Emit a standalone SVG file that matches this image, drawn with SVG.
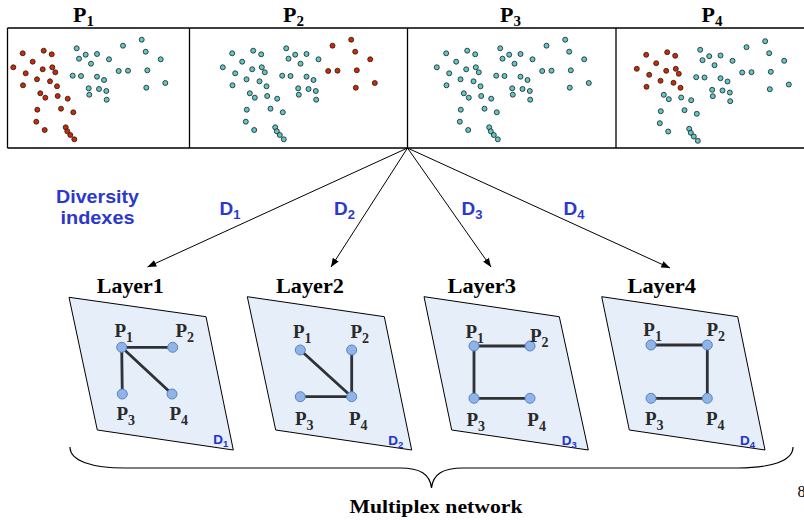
<svg xmlns="http://www.w3.org/2000/svg" xmlns:xlink="http://www.w3.org/1999/xlink" width="804" height="520" viewBox="0 0 804 520">
<style>
.frame{fill:none;stroke:#000;stroke-width:1.3}
.red{fill:#cc2a00;stroke:#1a1a1a;stroke-width:0.8}
.cy{fill:#5ec8c8;stroke:#1a1a1a;stroke-width:0.8}
.ttl{font-family:"Liberation Serif","Times New Roman",serif;font-weight:bold;fill:#000}
.blue{font-family:"Liberation Sans",Arial,sans-serif;font-weight:bold;fill:#2b38d0}
.plane{fill:#e6eefa;stroke:#000;stroke-width:1}
.edge{stroke:#2e3136;stroke-width:2.8;stroke-linecap:round;fill:none}
.nd{fill:#8fb4e8;stroke:#5a82c0;stroke-width:1}
.pl{font-family:"Liberation Serif","Times New Roman",serif;font-weight:bold;fill:#2a2a2a;font-size:19px}
.dl{font-family:"Liberation Sans",Arial,sans-serif;font-weight:bold;fill:#2233cc;font-size:13.5px}
.arr{stroke:#000;stroke-width:1;fill:none;marker-end:url(#ah)}
</style>
<defs>
<marker id="ah" viewBox="0 0 10 8" refX="10" refY="4" markerWidth="9" markerHeight="7" orient="auto" markerUnits="userSpaceOnUse"><path d="M0,0 L10,4 L0,8 z" fill="#000"/></marker>
<g id="dA">
<circle cx="22.7" cy="53.3" r="2.5"/><circle cx="43.7" cy="50.7" r="2.5"/><circle cx="51.7" cy="54.3" r="2.5"/><circle cx="32.7" cy="61.7" r="2.5"/><circle cx="13.3" cy="67.3" r="2.5"/><circle cx="25.7" cy="73.3" r="2.5"/><circle cx="42.7" cy="69.3" r="2.5"/><circle cx="52.3" cy="67.3" r="2.5"/><circle cx="55.3" cy="72.3" r="2.5"/><circle cx="37" cy="79.3" r="2.5"/><circle cx="50" cy="81.3" r="2.5"/><circle cx="23" cy="85.3" r="2.5"/><circle cx="57" cy="86.3" r="2.5"/>
</g>
<g id="dB">
<circle cx="40.3" cy="93.3" r="2.5"/><circle cx="45.3" cy="97.7" r="2.5"/><circle cx="57.7" cy="96" r="2.5"/><circle cx="67.7" cy="98.7" r="2.5"/><circle cx="37.3" cy="109.7" r="2.5"/><circle cx="61" cy="108.7" r="2.5"/><circle cx="73.3" cy="112.3" r="2.5"/><circle cx="36.3" cy="121.7" r="2.5"/><circle cx="44.7" cy="130" r="2.5"/><circle cx="65.7" cy="127.3" r="2.5"/><circle cx="67.3" cy="131.3" r="2.5"/><circle cx="70.3" cy="135" r="2.5"/><circle cx="74.3" cy="139.3" r="2.5"/>
</g>
<g id="dC">
<circle cx="76.7" cy="48.3" r="2.5"/><circle cx="85.7" cy="54.7" r="2.5"/><circle cx="97" cy="54" r="2.5"/><circle cx="79" cy="58.7" r="2.5"/><circle cx="91" cy="63.7" r="2.5"/><circle cx="109" cy="59.3" r="2.5"/><circle cx="72.7" cy="75.7" r="2.5"/><circle cx="81" cy="76" r="2.5"/><circle cx="97" cy="76.7" r="2.5"/><circle cx="104" cy="80" r="2.5"/><circle cx="88.7" cy="88.3" r="2.5"/><circle cx="99" cy="89" r="2.5"/><circle cx="106.3" cy="91" r="2.5"/><circle cx="89.3" cy="94.7" r="2.5"/><circle cx="106.7" cy="99.7" r="2.5"/>
</g>
<g id="dE">
<circle cx="123" cy="45.7" r="2.5"/><circle cx="141.7" cy="39.7" r="2.5"/><circle cx="145.7" cy="51.7" r="2.5"/><circle cx="160.7" cy="59.3" r="2.5"/><circle cx="118.7" cy="71" r="2.5"/><circle cx="128" cy="70.7" r="2.5"/><circle cx="147.3" cy="70.3" r="2.5"/><circle cx="146.3" cy="87.7" r="2.5"/><circle cx="165.3" cy="83" r="2.5"/>
</g>
</defs>

<rect x="0" y="0" width="804" height="520" fill="#fff"/>

<!-- top panels -->
<g id="panels">
<path class="frame" d="M7.5,28 H805 M7.5,148 H805 M7.5,28 V148 M189.5,28 V148 M407.5,28 V148 M616,28 V148"/>
</g>
<g id="panel-P1">
<text class="ttl" x="73" y="22" font-size="22">P<tspan font-size="15" dy="4">1</tspan></text>
<use xlink:href="#dA" class="red"/><use xlink:href="#dB" class="red"/><use xlink:href="#dC" class="cy"/><use xlink:href="#dE" class="cy"/>
</g>
<g id="panel-P2">
<text class="ttl" x="283" y="22" font-size="22">P<tspan font-size="15" dy="4">2</tspan></text>
<g transform="translate(209.5,0)"><use xlink:href="#dA" class="cy"/><use xlink:href="#dB" class="cy"/><use xlink:href="#dC" class="cy"/><use xlink:href="#dE" class="red"/></g>
</g>
<g id="panel-P3">
<text class="ttl" x="500" y="22" font-size="22">P<tspan font-size="15" dy="4">3</tspan></text>
<g transform="translate(423.5,0)"><use xlink:href="#dA" class="cy"/><use xlink:href="#dB" class="cy"/><use xlink:href="#dC" class="cy"/><use xlink:href="#dE" class="cy"/></g>
</g>
<g id="panel-P4">
<text class="ttl" x="701.5" y="22" font-size="22">P<tspan font-size="15" dy="4">4</tspan></text>
<g transform="translate(623.5,1.5)"><use xlink:href="#dA" class="red"/><use xlink:href="#dB" class="cy"/><use xlink:href="#dC" class="cy"/><use xlink:href="#dE" class="cy"/></g>
</g>

<!-- connectors -->
<g id="connectors">
<line class="arr" x1="407.5" y1="148" x2="147.5" y2="267"/>
<line class="arr" x1="407.5" y1="148" x2="331" y2="267"/>
<line class="arr" x1="407.5" y1="148" x2="491" y2="267"/>
<line class="arr" x1="407.5" y1="148" x2="670" y2="268"/>
</g>

<g id="labels-D">
<text class="blue" x="97.5" y="203" font-size="19" text-anchor="middle" textLength="83" lengthAdjust="spacingAndGlyphs">Diversity</text>
<text class="blue" x="97.5" y="224.3" font-size="19" text-anchor="middle" textLength="74" lengthAdjust="spacingAndGlyphs">indexes</text>
<text class="blue" x="219.5" y="214.5" font-size="19">D<tspan font-size="13" dy="4">1</tspan></text>
<text class="blue" x="334" y="214.5" font-size="19">D<tspan font-size="13" dy="4">2</tspan></text>
<text class="blue" x="461.5" y="214.5" font-size="19">D<tspan font-size="13" dy="4">3</tspan></text>
<text class="blue" x="563.5" y="214.5" font-size="19">D<tspan font-size="13" dy="4">4</tspan></text>
</g>

<!-- layers -->
<g id="layer1">
<text class="ttl" x="130.3" y="293.3" font-size="21" text-anchor="middle" textLength="67" lengthAdjust="spacingAndGlyphs">Layer1</text>
<polygon class="plane" points="69,297.3 206,316.7 233.3,450 97.3,430"/>
<line class="edge" x1="121.7" y1="347.3" x2="172.7" y2="347.3"/>
<line class="edge" x1="121.7" y1="347.3" x2="122.3" y2="394"/>
<line class="edge" x1="121.7" y1="347.3" x2="172" y2="394"/>
<circle class="nd" cx="121.7" cy="347.3" r="5"/><circle class="nd" cx="172.7" cy="347.3" r="5"/><circle class="nd" cx="122.3" cy="394" r="5"/><circle class="nd" cx="172" cy="394" r="5"/>
<text class="pl" x="114.5" y="336.5">P<tspan font-size="14" dy="5">1</tspan></text>
<text class="pl" x="175.5" y="336.5">P<tspan font-size="14" dy="5">2</tspan></text>
<text class="pl" x="116.5" y="420">P<tspan font-size="14" dy="5">3</tspan></text>
<text class="pl" x="169.5" y="420">P<tspan font-size="14" dy="5">4</tspan></text>
<text class="dl" x="213.3" y="444">D<tspan font-size="9.5" dy="3">1</tspan></text>
</g>
<g id="layer2">
<text class="ttl" x="310" y="293.3" font-size="21" text-anchor="middle" textLength="68" lengthAdjust="spacingAndGlyphs">Layer2</text>
<polygon class="plane" points="247.3,296.7 384.3,316.7 411.7,450 275.7,430"/>
<line class="edge" x1="300.3" y1="350" x2="351.7" y2="396.7"/>
<line class="edge" x1="351.7" y1="350" x2="351.7" y2="396.7"/>
<line class="edge" x1="300.3" y1="396.7" x2="351.7" y2="396.7"/>
<circle class="nd" cx="300.3" cy="350" r="5"/><circle class="nd" cx="351.7" cy="350" r="5"/><circle class="nd" cx="300.3" cy="396.7" r="5"/><circle class="nd" cx="351.7" cy="396.7" r="5"/>
<text class="pl" x="293" y="338.3">P<tspan font-size="14" dy="5">1</tspan></text>
<text class="pl" x="350.5" y="338.3">P<tspan font-size="14" dy="5">2</tspan></text>
<text class="pl" x="295" y="425">P<tspan font-size="14" dy="5">3</tspan></text>
<text class="pl" x="349" y="425">P<tspan font-size="14" dy="5">4</tspan></text>
<text class="dl" x="388.3" y="445">D<tspan font-size="9.5" dy="3">2</tspan></text>
</g>
<g id="layer3">
<text class="ttl" x="481.7" y="293.3" font-size="21" text-anchor="middle" textLength="68.5" lengthAdjust="spacingAndGlyphs">Layer3</text>
<polygon class="plane" points="424,296.7 559.3,316.7 588.3,450 451.7,430"/>
<line class="edge" x1="474" y1="346" x2="530" y2="346"/>
<line class="edge" x1="474" y1="346" x2="474" y2="398.3"/>
<line class="edge" x1="474" y1="398.3" x2="530" y2="398.3"/>
<circle class="nd" cx="474" cy="346" r="5"/><circle class="nd" cx="530" cy="346" r="5"/><circle class="nd" cx="474" cy="398.3" r="5"/><circle class="nd" cx="530" cy="398.3" r="5"/>
<text class="pl" x="465.5" y="338.3">P<tspan font-size="14" dy="5">1</tspan></text>
<text class="pl" x="530" y="341.7">P<tspan font-size="14" dy="5">2</tspan></text>
<text class="pl" x="466.5" y="425.7">P<tspan font-size="14" dy="5">3</tspan></text>
<text class="pl" x="527.3" y="425.7">P<tspan font-size="14" dy="5">4</tspan></text>
<text class="dl" x="561.7" y="445">D<tspan font-size="9.5" dy="3">3</tspan></text>
</g>
<g id="layer4">
<text class="ttl" x="661.7" y="293.3" font-size="21" text-anchor="middle" textLength="68.5" lengthAdjust="spacingAndGlyphs">Layer4</text>
<polygon class="plane" points="601.7,296.7 737.7,316.7 765,450 629.3,430"/>
<line class="edge" x1="651" y1="345" x2="707.3" y2="345"/>
<line class="edge" x1="707.3" y1="345" x2="707.3" y2="398.3"/>
<line class="edge" x1="651" y1="398.3" x2="707.3" y2="398.3"/>
<text class="pl" x="643.3" y="336">P<tspan font-size="14" dy="5">1</tspan></text>
<circle class="nd" cx="651" cy="345" r="5"/><circle class="nd" cx="707.3" cy="345" r="5"/><circle class="nd" cx="651" cy="398.3" r="5"/><circle class="nd" cx="707.3" cy="398.3" r="5"/>
<text class="pl" x="706.5" y="336">P<tspan font-size="14" dy="5">2</tspan></text>
<text class="pl" x="645" y="425">P<tspan font-size="14" dy="5">3</tspan></text>
<text class="pl" x="706" y="425">P<tspan font-size="14" dy="5">4</tspan></text>
<text class="dl" x="740" y="445">D<tspan font-size="9.5" dy="3">4</tspan></text>
</g>

<g id="brace">
<path d="M70,447 C70,461 92,468 125,468 L400,468 C420,468 430,474 431.5,488 C433,474 443,468 463,468 L738,468 C771,468 793,461 793,447" fill="none" stroke="#000" stroke-width="1.2"/>
<text class="ttl" x="436" y="513.3" font-size="19.5" text-anchor="middle" textLength="173" lengthAdjust="spacingAndGlyphs">Multiplex network</text>
</g>
<text x="797.5" y="497" font-family="Liberation Serif, serif" font-size="16" fill="#000">8</text>
</svg>
